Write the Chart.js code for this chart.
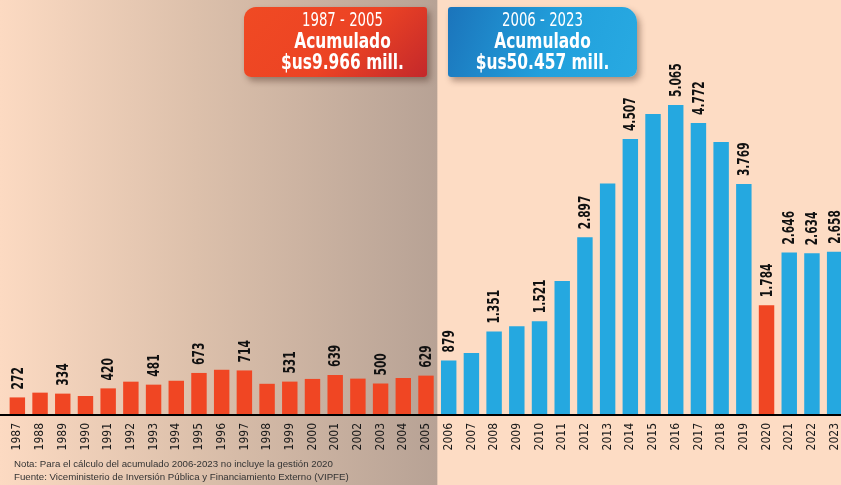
<!DOCTYPE html>
<html lang="es">
<head>
<meta charset="utf-8">
<title>Financiamiento externo 1987-2023</title>
<script src="https://cdn.jsdelivr.net/npm/chart.js@4/dist/chart.umd.min.js"></script>
<style>
  html, body { margin: 0; padding: 0; }
  body { width: 841px; height: 485px; overflow: hidden; position: relative; background: #fddcc4; }
  #chart { position: absolute; left: 0; top: 0; }
  .banner {
    position: absolute; top: 7px; height: 70px; color: #fff; text-align: center;
    font-family: "DejaVu Sans Condensed", "DejaVu Sans", sans-serif;
    box-shadow: 3px 4px 6px rgba(60, 30, 20, 0.4);
    box-sizing: border-box; padding-top: 2px;
  }
  .banner div { transform: scaleX(0.78); transform-origin: 50% 50%; white-space: nowrap; }
  .banner .period { font-size: 19px; line-height: 21px; }
  .banner .big { font-size: 22px; line-height: 21px; font-weight: bold; }
  #bannerOld {
    left: 244px; width: 183px;
    background: linear-gradient(135deg, #f04a23 0%, #ec4324 55%, #c3282b 100%);
    border-radius: 12px 3px 3px 7px;
    padding-left: 14px;
  }
  #bannerNew {
    left: 448px; width: 189px;
    background: linear-gradient(110deg, #1b74bb 0%, #22a0dc 55%, #28aae2 100%);
    border-radius: 3px 15px 8px 3px;
  }
  #note {
    position: absolute; left: 14px; top: 457px;
    font-family: "Liberation Sans", Arial, sans-serif; font-size: 9.7px; line-height: 13px;
    color: #333;
  }
</style>
</head>
<body>
<canvas id="chart" width="846" height="485"></canvas>

<div class="banner" id="bannerOld">
  <div class="period">1987 - 2005</div>
  <div class="big">Acumulado</div>
  <div class="big">$us9.966 mill.</div>
</div>
<div class="banner" id="bannerNew">
  <div class="period">2006 - 2023</div>
  <div class="big">Acumulado</div>
  <div class="big">$us50.457 mill.</div>
</div>

<div id="note">
  Nota: Para el cálculo del acumulado 2006-2023 no incluye la gestión 2020<br>
  Fuente: Viceministerio de Inversión Pública y Financiamiento Externo (VIPFE)
</div>

<script>
/* Desembolsos anuales, millones de $us */
const years = [
  '1987', '1988', '1989', '1990', '1991', '1992', '1993', '1994', '1995', '1996',
  '1997', '1998', '1999', '2000', '2001', '2002', '2003', '2004', '2005',
  '2006', '2007', '2008', '2009', '2010', '2011', '2012', '2013', '2014', '2015',
  '2016', '2017', '2018', '2019', '2020', '2021', '2022', '2023'
];
const amounts = [
  272, 350, 334, 295, 420, 530, 481, 545, 673, 725,
  714, 495, 531, 575, 639, 580, 500, 590, 629,
  879, 1000, 1351, 1440, 1521, 2180, 2897, 3780, 4507, 4920,
  5065, 4772, 4460, 3769, 1784, 2646, 2634, 2658
];
// years that carry a value label in the original
const labeledYears = [
  '1987', '1989', '1991', '1993', '1995', '1997', '1999', '2001', '2003', '2005',
  '2006', '2008', '2010', '2012', '2014', '2016', '2017', '2019', '2020',
  '2021', '2022', '2023'
];
const lastOldYear = '2005';   // end of first period
const excludedYear = '2020';  // not counted in 2006-2023 total

const RED = '#f04623';
const BLUE = '#25a8e0';
const COND = '"DejaVu Sans Condensed", "DejaVu Sans", sans-serif';

const barColors = years.map(y => (Number(y) <= Number(lastOldYear) || y === excludedYear) ? RED : BLUE);

function fmt(v) {
  if (v < 1000) return String(v);
  return Math.floor(v / 1000) + '.' + String(v % 1000).padStart(3, '0');
}

/* background: brown gradient behind first period, peach behind second */
const backdrop = {
  id: 'backdrop',
  beforeDraw(chart) {
    const { ctx, scales: { x } } = chart;
    const i = years.indexOf(lastOldYear);
    const split = (x.getPixelForValue(i) + x.getPixelForValue(i + 1)) / 2;
    ctx.save();
    ctx.fillStyle = '#fddcc4';
    ctx.fillRect(0, 0, chart.width, chart.height);
    const g = ctx.createLinearGradient(0, 0, split, 0);
    g.addColorStop(0, '#fcdac2');
    g.addColorStop(0.45, '#dcc0ab');
    g.addColorStop(1, '#b7a295');
    ctx.fillStyle = g;
    ctx.fillRect(0, 0, split, chart.height);
    ctx.restore();
  }
};

/* baseline + rotated value labels */
const valueLabels = {
  id: 'valueLabels',
  afterDatasetsDraw(chart) {
    const { ctx, chartArea } = chart;
    const meta = chart.getDatasetMeta(0);
    ctx.save();
    ctx.fillStyle = '#000';
    ctx.fillRect(0, chartArea.bottom, chart.width, 2);

    ctx.font = 'bold 16px ' + COND;
    ctx.fillStyle = '#111';
    ctx.textAlign = 'left';
    ctx.textBaseline = 'middle';
    meta.data.forEach((bar, i) => {
      if (!labeledYears.includes(years[i])) return;
      ctx.save();
      ctx.translate(bar.x + 1, bar.y - 8);
      ctx.rotate(-Math.PI / 2);
      ctx.scale(0.74, 1); // squeeze to a condensed look
      ctx.fillText(fmt(amounts[i]), 0, 0);
      ctx.restore();
    });
    ctx.restore();
  }
};

const ctx = document.getElementById('chart').getContext('2d');
const chart = new Chart(ctx, {
  type: 'bar',
  data: {
    labels: years,
    datasets: [{
      data: amounts,
      backgroundColor: barColors,
      borderWidth: 0,
      barPercentage: 0.68,
      categoryPercentage: 1
    }]
  },
  options: {
    responsive: false,
    devicePixelRatio: 1,
    animation: false,
    layout: { padding: { left: 6, right: 0, top: 48, bottom: 0 } },
    plugins: { legend: { display: false }, tooltip: { enabled: false } },
    scales: {
      x: {
        grid: { display: false, drawTicks: false },
        border: { display: false },
        ticks: {
          autoSkip: false,
          maxRotation: 90,
          minRotation: 90,
          padding: 9,
          color: '#1a1a1a',
          font: { family: COND, size: 12 }
        },
        afterFit(scale) {
          scale.height = 71;
          scale.paddingLeft = 0;
          scale.paddingRight = 0;
        }
      },
      y: {
        display: false,
        min: 0,
        max: 6000
      }
    }
  },
  plugins: [backdrop, valueLabels]
});
</script>
</body>
</html>
